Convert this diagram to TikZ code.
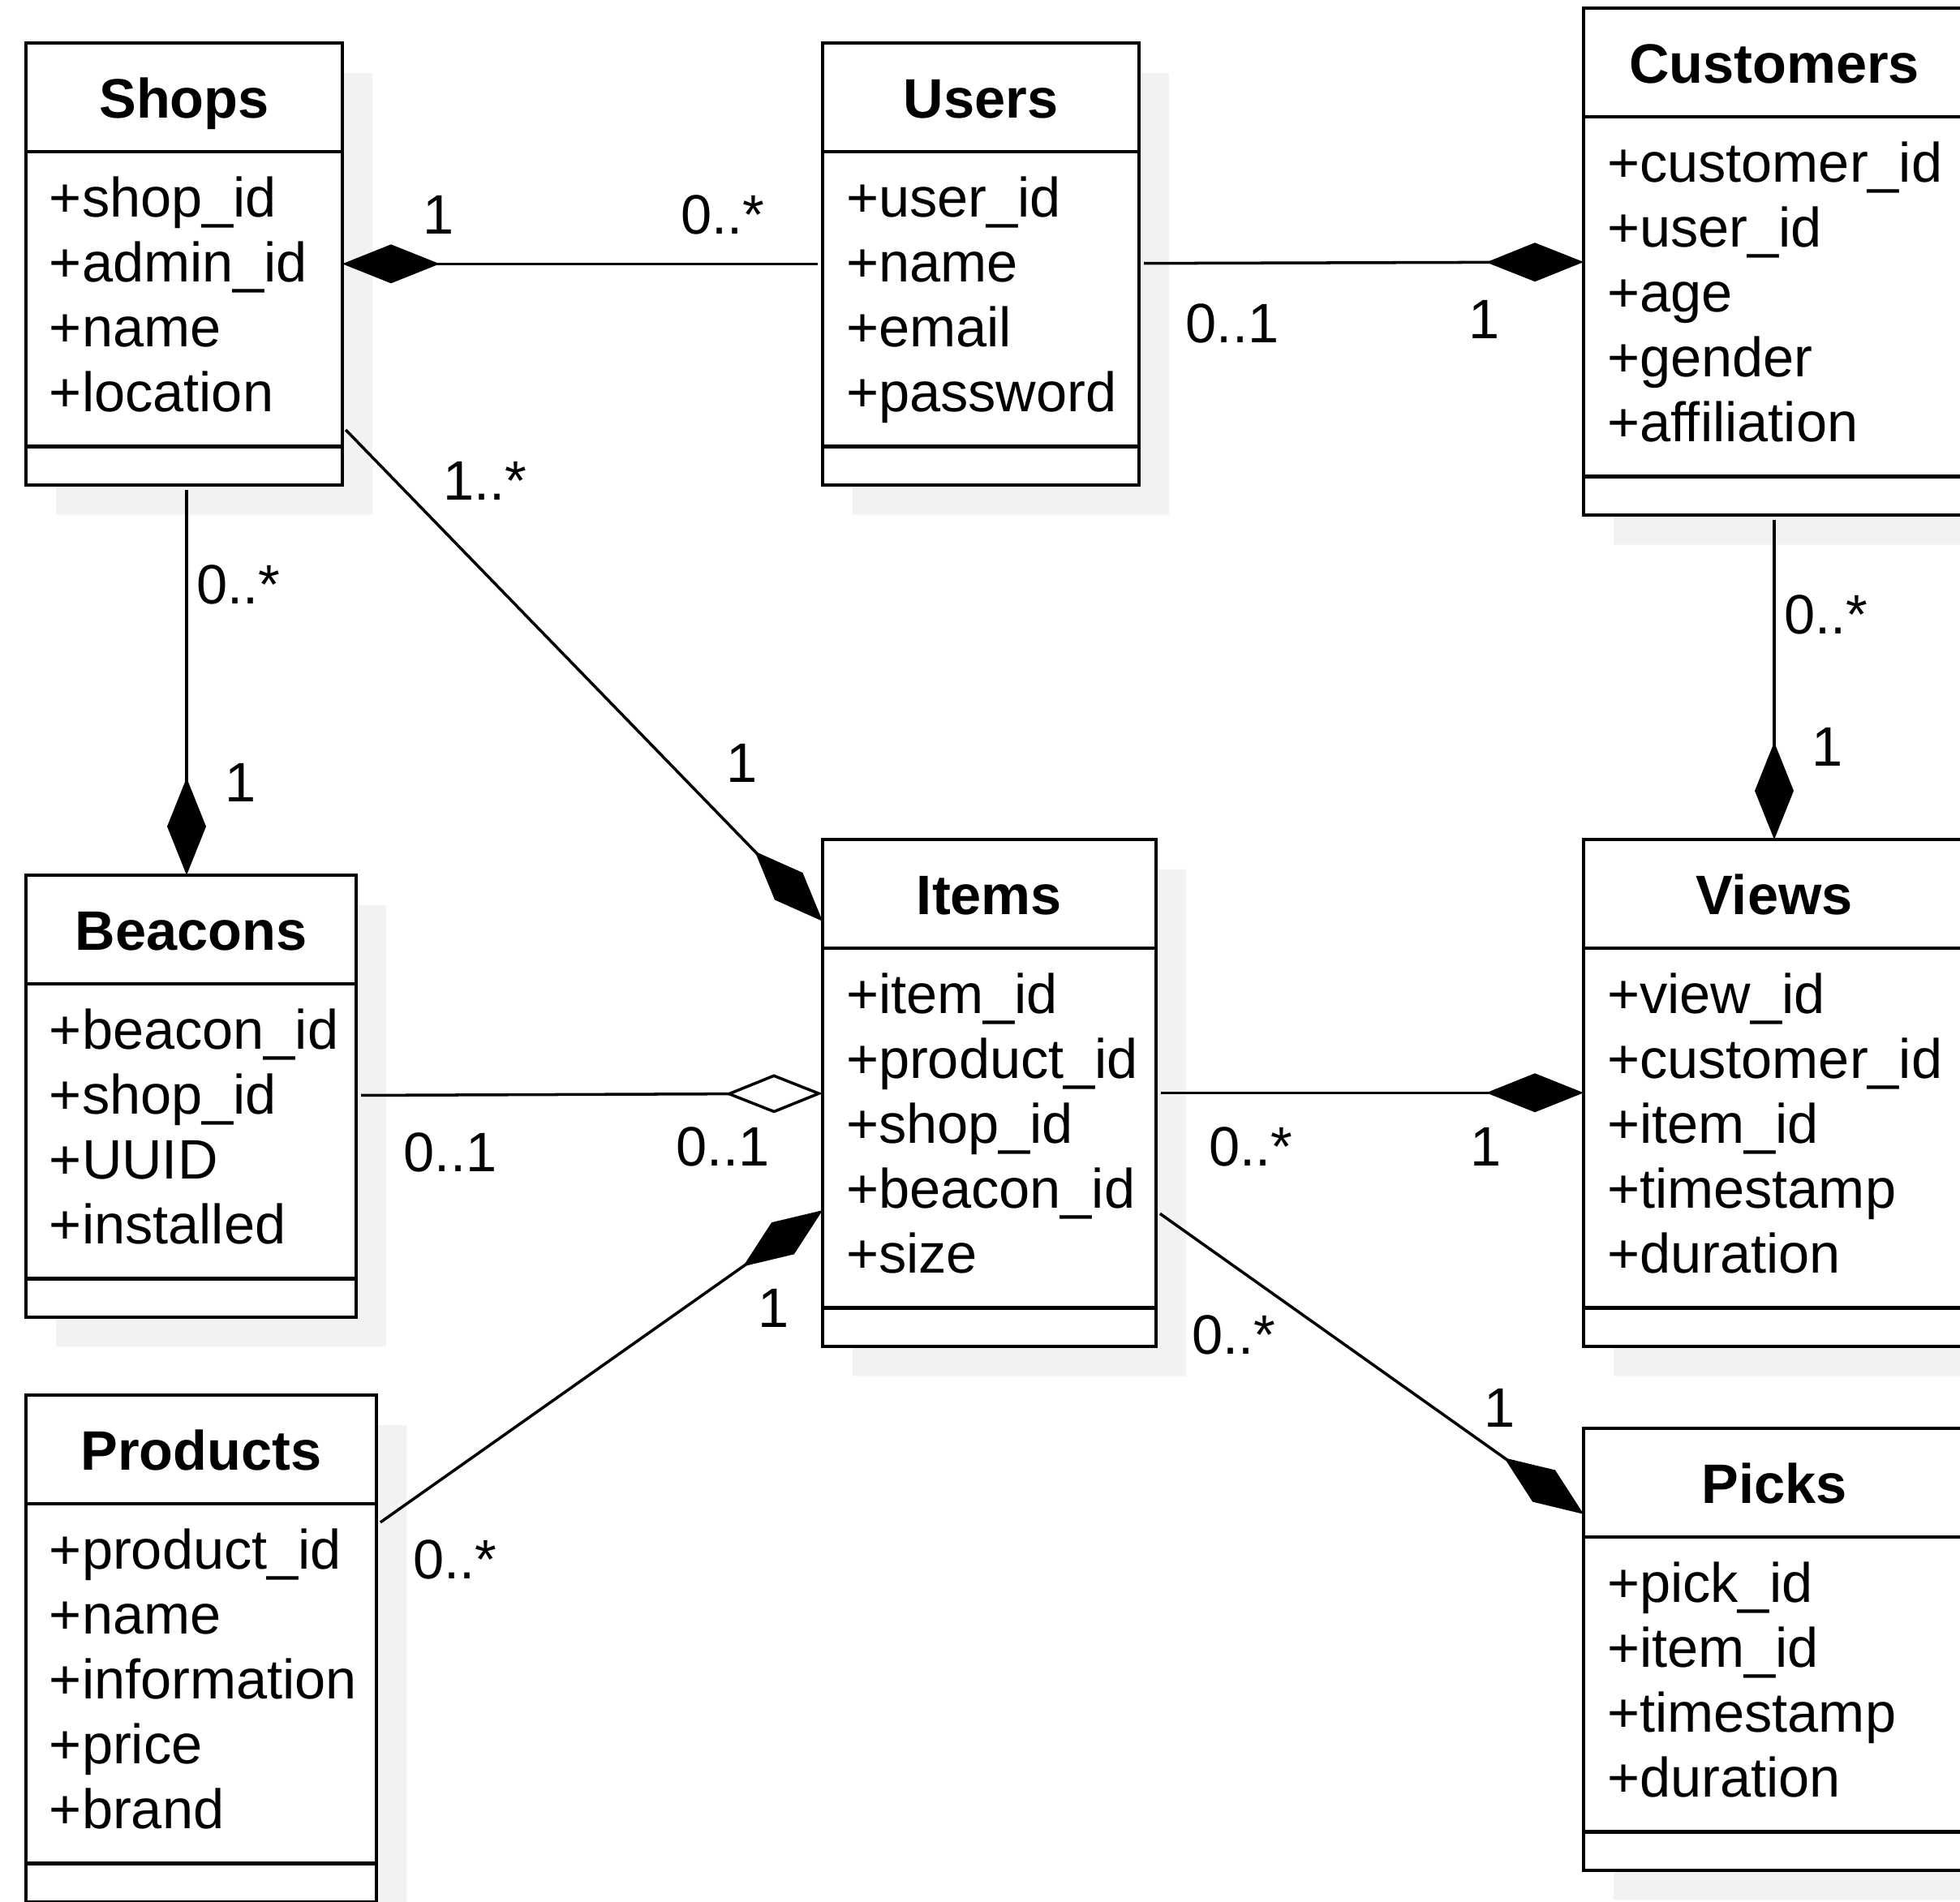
\documentclass[tikz,border=0pt]{standalone}
\usepackage{fontspec}
\setmainfont{Liberation Sans}
\usetikzlibrary{shapes.multipart,shadows,arrows.meta}
\newcommand{\classname}[2]{\parbox[c][1.30cm][t]{#1}{\centering\rule{0pt}{0.90cm}\textbf{#2}}}
\newcommand{\classattrs}[3]{\parbox[c][#2][t]{#1}{\leftskip=0.29cm\rule{0pt}{0.78cm}#3}}
\newcommand{\classops}[1]{\parbox[c][0.43cm]{#1}{}}
\begin{document}
\begin{tikzpicture}[class box/.style={rectangle split, rectangle split parts=3, draw, line width=1.2pt, fill=white, inner sep=0pt, outer sep=0pt, anchor=north west, font=\fontsize{19.5}{22.76}\selectfont, drop shadow={shadow xshift=0.37cm, shadow yshift=-0.37cm, fill=black!5, opacity=1}},mult label/.style={font=\fontsize{19.5}{22.76}\selectfont, inner sep=1pt},assoc edge/.style={line width=1pt, shorten <=0.06cm},comp edge/.style={assoc edge, -{Diamond[length=1.2cm, width=0.48cm]}},aggr edge/.style={assoc edge, -{Diamond[open, length=1.2cm, width=0.48cm]}}]%
\useasboundingbox (0,0) rectangle (24.16,-23.45);%
\clip (0,0) rectangle (24.16,-23.45);%
  % Top row%
\node[class box] (shops) at (0.32,-0.53) {\classname{3.9cm}{Shops}\nodepart{two}\classattrs{3.9cm}{3.59cm}{+shop\_id\\+admin\_id\\+name\\+location}\nodepart{three}\classops{3.9cm}};%
\node[class box] (users) at (10.14,-0.53) {\classname{3.9cm}{Users}\nodepart{two}\classattrs{3.9cm}{3.59cm}{+user\_id\\+name\\+email\\+password}\nodepart{three}\classops{3.9cm}};%
\node[class box] (customers) at (19.52,-0.10) {\classname{4.7cm}{Customers}\nodepart{two}\classattrs{4.7cm}{4.39cm}{+customer\_id\\+user\_id\\+age\\+gender\\+affiliation}\nodepart{three}\classops{4.7cm}};%
  % Middle row%
\node[class box] (beacons) at (0.32,-10.79) {\classname{4.07cm}{Beacons}\nodepart{two}\classattrs{4.07cm}{3.59cm}{+beacon\_id\\+shop\_id\\+UUID\\+installed}\nodepart{three}\classops{4.07cm}};%
\node[class box] (items) at (10.14,-10.35) {\classname{4.11cm}{Items}\nodepart{two}\classattrs{4.11cm}{4.39cm}{+item\_id\\+product\_id\\+shop\_id\\+beacon\_id\\+size}\nodepart{three}\classops{4.11cm}};%
\node[class box] (views) at (19.52,-10.35) {\classname{4.7cm}{Views}\nodepart{two}\classattrs{4.7cm}{4.39cm}{+view\_id\\+customer\_id\\+item\_id\\+timestamp\\+duration}\nodepart{three}\classops{4.7cm}};%
  % Bottom row%
\node[class box] (products) at (0.32,-17.20) {\classname{4.32cm}{Products}\nodepart{two}\classattrs{4.32cm}{4.39cm}{+product\_id\\+name\\+information\\+price\\+brand}\nodepart{three}\classops{4.32cm}};%
\node[class box] (picks) at (19.52,-17.61) {\classname{4.7cm}{Picks}\nodepart{two}\classattrs{4.7cm}{3.59cm}{+pick\_id\\+item\_id\\+timestamp\\+duration}\nodepart{three}\classops{4.7cm}};%
  % Associations%
\draw[comp edge] (users) -- (shops);%
\draw[comp edge] (users) -- (customers);%
\draw[comp edge] (shops) -- (items);%
\draw[comp edge] ([xshift=0.03cm]shops.south) -- ([xshift=0.03cm]shops.south |- beacons.north);%
\draw[comp edge] (customers) -- (views);%
\draw[aggr edge] (beacons) -- (items);%
\draw[comp edge] (products) -- (items);%
\draw[comp edge] (items) -- (views);%
\draw[comp edge] (items) -- (picks);%
  % Multiplicities%
\node[mult label] (su shops) at (5.41,-2.65) {1};%
\node[mult label] (su users) at (8.91,-2.65) {0..*};%
\node[mult label] (uc users) at (15.19,-3.99) {0..1};%
\node[mult label] (uc customers) at (18.30,-3.94) {1};%
\node[mult label] (si shops) at (5.98,-5.93) {1..*};%
\node[mult label] (si items) at (9.15,-9.41) {1};%
\node[mult label] (sb shops) at (2.94,-7.21) {0..*};%
\node[mult label] (sb beacons) at (2.97,-9.65) {1};%
\node[mult label] (cv customers) at (22.51,-7.58) {0..*};%
\node[mult label] (cv views) at (22.53,-9.21) {1};%
\node[mult label] (bi beacons) at (5.55,-14.21) {0..1};%
\node[mult label] (bi items) at (8.91,-14.14) {0..1};%
\node[mult label] (iv items) at (15.42,-14.14) {0..*};%
\node[mult label] (iv views) at (18.32,-14.14) {1};%
\node[mult label] (pi items) at (9.54,-16.13) {1};%
\node[mult label] (pi products) at (5.61,-19.23) {0..*};%
\node[mult label] (ip items) at (15.21,-16.46) {0..*};%
\node[mult label] (ip picks) at (18.49,-17.36) {1};%
\end{tikzpicture}
\end{document}
